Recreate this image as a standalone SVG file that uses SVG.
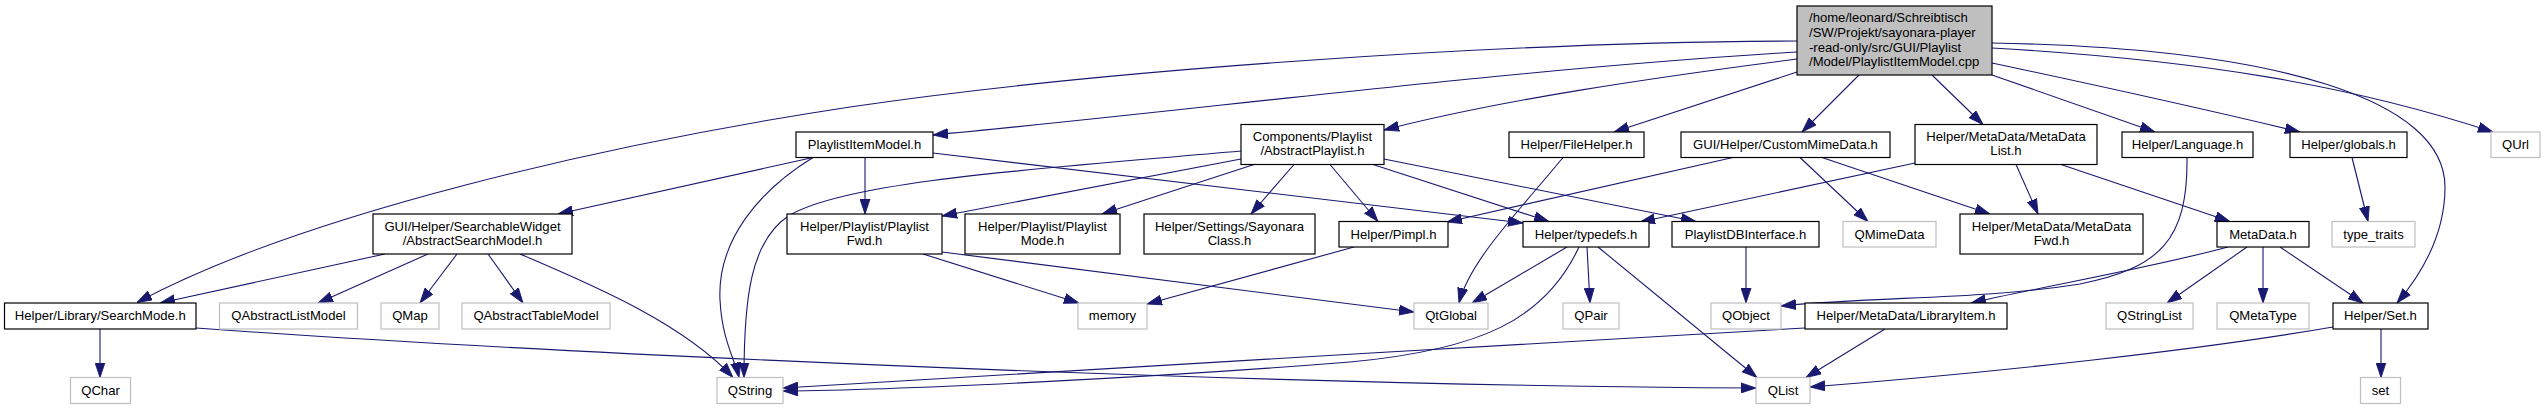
<svg xmlns="http://www.w3.org/2000/svg" width="2545" height="409" viewBox="0 0 2545 409">
<style>
text{font-family:"Liberation Sans",Arial,Helvetica,sans-serif;font-size:13.1px;fill:#000;text-anchor:middle}
.n rect{fill:#fff;stroke:#000;stroke-width:1.2}
.x rect{fill:#fff;stroke:#bfbfbf;stroke-width:1.2}
.m rect{fill:#bfbfbf;stroke:#000;stroke-width:1.2}
.m text{text-anchor:start}
#edges path{fill:none;stroke:#191970;stroke-width:1.1;marker-end:url(#a)}
</style>
<defs>
<marker id="a" markerUnits="userSpaceOnUse" markerWidth="15" markerHeight="11" viewBox="0 0 14 10" refX="14" refY="5" orient="auto">
<path d="M0,0.3 L14,5 L0,9.7 z" fill="#191970" stroke="#191970" stroke-width="0.8"/>
</marker>
</defs>
<rect width="2545" height="409" fill="#fff"/>
<g id="edges">
<path d="M1797,41 C1500,42 1100,70 850,107 C600,145 300,215 137,302.5"/>
<path d="M1797,52 C1500,70 1200,110 933,135"/>
<path d="M1797,59 C1650,78 1500,100 1384,130"/>
<path d="M1797,72 L1614,132"/>
<path d="M1859,75 L1802,132"/>
<path d="M1932,75 L1983,124.5"/>
<path d="M1992,75 L2155,132"/>
<path d="M1992,63 C2100,86 2200,108 2300,132"/>
<path d="M1992,48 C2200,60 2350,85 2493,132"/>
<path d="M1992,43 C2280,48 2445,100 2445,187 C2445,230 2425,270 2397,303"/>
<path d="M813,157.5 L558,214"/>
<path d="M813,157.5 C760,190 717,240 720,300 C722,340 735,360 739,377.5"/>
<path d="M865,157.5 L865,214"/>
<path d="M933,153 L1523,223"/>
<path d="M1241,151 C1050,168 850,180 790,215 C750,240 744,300 744,377.5"/>
<path d="M1241,159 L942,216"/>
<path d="M1254,164.5 L1102,214"/>
<path d="M1294,164.5 L1251,214"/>
<path d="M1330,164.5 L1378,221.5"/>
<path d="M1373,164.5 L1549,221.5"/>
<path d="M1384,159 L1696,221.5"/>
<path d="M1563,157.5 C1520,210 1470,260 1459,303"/>
<path d="M1733,157.5 L1447,222"/>
<path d="M1800,157.5 L1868,221.5"/>
<path d="M1822,157.5 L1990,214"/>
<path d="M1915,163 L1640,222"/>
<path d="M2016,164.5 L2038,214"/>
<path d="M2061,164.5 L2230,221.5"/>
<path d="M2187,157.5 C2188,240 2160,268 2080,284 C1980,300 1880,296 1781,306"/>
<path d="M2352,157.5 L2368,221.5"/>
<path d="M923,254 L1079,303"/>
<path d="M942,252 L1414,312"/>
<path d="M1354,247 L1147,304"/>
<path d="M1567,247 L1472,303"/>
<path d="M1579,247 C1545,320 1480,350 1350,362 C1150,378 900,390 783,391"/>
<path d="M1587,247 L1590,303"/>
<path d="M1598,247 L1757,377.5"/>
<path d="M1746,247 L1746,303"/>
<path d="M2228,247 C2150,268 2050,285 1971,303"/>
<path d="M2247,247 L2167,303"/>
<path d="M2263,247 L2263,303"/>
<path d="M2280,247 L2363,303"/>
<path d="M1885,329 L1806,377.5"/>
<path d="M1805,328 C1500,345 1000,375 783,388"/>
<path d="M2333,327 C2200,350 2000,372 1810,387"/>
<path d="M2381,329 L2381,377.5"/>
<path d="M385,254 L160,303"/>
<path d="M428,254 L318,303"/>
<path d="M457,254 L420,303"/>
<path d="M488,254 L523,303"/>
<path d="M520,254 C580,280 680,320 733,377.5"/>
<path d="M100,329 L100,377.5"/>
<path d="M196,328 C500,350 1200,385 1756,388"/>
</g>
<g id="main" class="m"><rect x="1797" y="6" width="195" height="69"/>
<text x="1809" y="22">/home/leonard/Schreibtisch</text>
<text x="1809" y="36.8">/SW/Projekt/sayonara-player</text>
<text x="1809" y="51.5">-read-only/src/GUI/Playlist</text>
<text x="1809" y="66.2">/Model/PlaylistItemModel.cpp</text></g>
<g id="PlaylistItemModel" class="n"><rect x="796" y="132" width="137" height="25.5"/><text x="864.5" y="149">PlaylistItemModel.h</text></g>
<g id="AbstractPlaylist" class="n"><rect x="1241" y="124.5" width="143" height="40"/><text x="1312.5" y="141">Components/Playlist</text><text x="1312.5" y="155.3">/AbstractPlaylist.h</text></g>
<g id="FileHelper" class="n"><rect x="1509" y="132" width="135" height="25.5"/><text x="1576.5" y="149">Helper/FileHelper.h</text></g>
<g id="CustomMimeData" class="n"><rect x="1681" y="132" width="209" height="25.5"/><text x="1785.5" y="149">GUI/Helper/CustomMimeData.h</text></g>
<g id="MetaDataList" class="n"><rect x="1915" y="124.5" width="182" height="40"/><text x="2006" y="141">Helper/MetaData/MetaData</text><text x="2006" y="155.3">List.h</text></g>
<g id="Language" class="n"><rect x="2122" y="132" width="131" height="25.5"/><text x="2187.5" y="149">Helper/Language.h</text></g>
<g id="globals" class="n"><rect x="2290" y="132" width="117" height="25.5"/><text x="2348.5" y="149">Helper/globals.h</text></g>
<g id="QUrl" class="x"><rect x="2491" y="132" width="49" height="25.5"/><text x="2515.5" y="149">QUrl</text></g>
<g id="AbstractSearchModel" class="n"><rect x="373" y="214" width="199" height="40"/><text x="472.5" y="230.5">GUI/Helper/SearchableWidget</text><text x="472.5" y="244.8">/AbstractSearchModel.h</text></g>
<g id="PlaylistFwd" class="n"><rect x="787" y="214" width="155" height="40"/><text x="864.5" y="230.5">Helper/Playlist/Playlist</text><text x="864.5" y="244.8">Fwd.h</text></g>
<g id="PlaylistMode" class="n"><rect x="965" y="214" width="155" height="40"/><text x="1042.5" y="230.5">Helper/Playlist/Playlist</text><text x="1042.5" y="244.8">Mode.h</text></g>
<g id="SayonaraClass" class="n"><rect x="1144" y="214" width="171" height="40"/><text x="1229.5" y="230.5">Helper/Settings/Sayonara</text><text x="1229.5" y="244.8">Class.h</text></g>
<g id="Pimpl" class="n"><rect x="1339" y="221.5" width="109" height="25.5"/><text x="1393.5" y="238.5">Helper/Pimpl.h</text></g>
<g id="typedefs" class="n"><rect x="1523" y="221.5" width="126" height="25.5"/><text x="1586" y="238.5">Helper/typedefs.h</text></g>
<g id="PlaylistDBInterface" class="n"><rect x="1672" y="221.5" width="147" height="25.5"/><text x="1745.5" y="238.5">PlaylistDBInterface.h</text></g>
<g id="QMimeData" class="x"><rect x="1843" y="221.5" width="93" height="25.5"/><text x="1889.5" y="238.5">QMimeData</text></g>
<g id="MetaDataFwd" class="n"><rect x="1960" y="214" width="183" height="40"/><text x="2051.5" y="230.5">Helper/MetaData/MetaData</text><text x="2051.5" y="244.8">Fwd.h</text></g>
<g id="MetaData" class="n"><rect x="2217" y="221.5" width="92" height="25.5"/><text x="2263" y="238.5">MetaData.h</text></g>
<g id="type_traits" class="x"><rect x="2332" y="221.5" width="83" height="25.5"/><text x="2373.5" y="238.5">type_traits</text></g>
<g id="SearchMode" class="n"><rect x="4.5" y="303" width="191.5" height="26"/><text x="100.25" y="320.3">Helper/Library/SearchMode.h</text></g>
<g id="QAbstractListModel" class="x"><rect x="219.5" y="303" width="138" height="26"/><text x="288.5" y="320.3">QAbstractListModel</text></g>
<g id="QMap" class="x"><rect x="381" y="303" width="58" height="26"/><text x="410" y="320.3">QMap</text></g>
<g id="QAbstractTableModel" class="x"><rect x="462" y="303" width="148" height="26"/><text x="536" y="320.3">QAbstractTableModel</text></g>
<g id="memory" class="x"><rect x="1078" y="303" width="69" height="26"/><text x="1112.5" y="320.3">memory</text></g>
<g id="QtGlobal" class="x"><rect x="1414" y="303" width="74" height="26"/><text x="1451" y="320.3">QtGlobal</text></g>
<g id="QPair" class="x"><rect x="1563" y="303" width="56" height="26"/><text x="1591" y="320.3">QPair</text></g>
<g id="QObject" class="x"><rect x="1711" y="303" width="70" height="26"/><text x="1746" y="320.3">QObject</text></g>
<g id="LibraryItem" class="n"><rect x="1805" y="303" width="202" height="26"/><text x="1906" y="320.3">Helper/MetaData/LibraryItem.h</text></g>
<g id="QStringList" class="x"><rect x="2106" y="303" width="87" height="26"/><text x="2149.5" y="320.3">QStringList</text></g>
<g id="QMetaType" class="x"><rect x="2217" y="303" width="92" height="26"/><text x="2263" y="320.3">QMetaType</text></g>
<g id="Set" class="n"><rect x="2333" y="303" width="95" height="26"/><text x="2380.5" y="320.3">Helper/Set.h</text></g>
<g id="QChar" class="x"><rect x="70.5" y="377.5" width="60" height="26"/><text x="100.5" y="394.8">QChar</text></g>
<g id="QString" class="x"><rect x="717" y="377.5" width="66" height="26"/><text x="750" y="394.8">QString</text></g>
<g id="QList" class="x"><rect x="1756" y="377.5" width="54" height="26"/><text x="1783" y="394.8">QList</text></g>
<g id="set" class="x"><rect x="2360.5" y="377.5" width="40" height="26"/><text x="2380.5" y="394.8">set</text></g>
</svg>
